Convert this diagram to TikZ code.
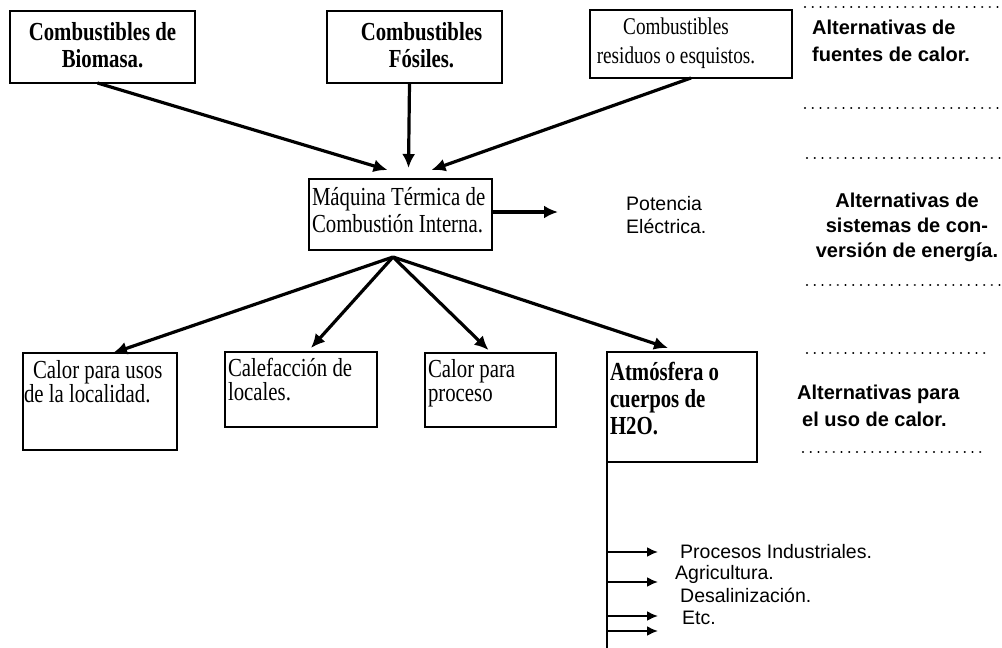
\documentclass[tikz,border=0pt]{standalone}
\usepackage{fontspec}
\usetikzlibrary{arrows.meta,calc}
\newfontfamily\serf{Liberation Serif}[FakeStretch=0.8]
\newfontfamily\sanf{Liberation Sans}
\newcommand\bt[5]{\parbox[c][#2][t]{#1}{#4\rule{0pt}{#3}#5}}
\tikzset{
  bx/.style={draw, line width=2pt, inner sep=0pt, outer sep=0pt, anchor=north west},
  arr/.style={line width=3.2pt, -{Latex[length=14pt,width=13pt]}},
  tarr/.style={line width=2pt, -{Latex[length=11pt,width=10pt]}},
  vline/.style={line width=2.2pt},
  dots/.style={line width=2.2pt, line cap=round, dash pattern=on 0.1pt off 7.6pt},
  lab/.style={inner sep=0pt, anchor=west, align=left, font=\sanf\fontsize{19.5}{23}\selectfont},
  blab/.style={inner sep=0pt, anchor=west, align=left, font=\sanf\bfseries\fontsize{20}{27}\selectfont}
}
\begin{document}
\begin{tikzpicture}[x=1pt,y=-1pt]
\useasboundingbox (0,0) rectangle (1002,648);
% top boxes
\node[bx] (bio) at (10,11) {\bt{185pt}{72pt}{29pt}{\centering}{\serf\bfseries\fontsize{26}{27}\selectfont Combustibles de\\Biomasa.}};
\node[bx] (fos) at (327,11) {\bt{175pt}{72pt}{29pt}{\centering\advance\leftskip 14pt}{\serf\bfseries\fontsize{26}{27}\selectfont Combustibles\\Fósiles.}};
\node[bx] (res) at (590,10) {\bt{202pt}{68pt}{24pt}{\centering\advance\rightskip 30pt}{\serf\fontsize{24}{29}\selectfont Combustibles\\residuos o esquistos.}};
% machine
\node[bx] (mach) at (309,179) {\bt{183pt}{71pt}{26pt}{\leftskip 3pt}{\serf\fontsize{26}{27}\selectfont Máquina Térmica de\\Combustión Interna.}};
% lower boxes
\node[bx] (cpu) at (23,353) {\bt{154pt}{97pt}{25pt}{\leftskip 1pt}{\serf\fontsize{26}{24}\selectfont\hspace*{9pt}Calor para usos\\de la localidad.}};
\node[bx] (cal) at (225,352) {\bt{152pt}{75pt}{24pt}{\leftskip 3pt}{\serf\fontsize{26}{24}\selectfont Calefacción de\\locales.}};
\node[bx] (proc) at (425,353) {\bt{131pt}{74pt}{24pt}{\leftskip 3pt}{\serf\fontsize{26}{24}\selectfont Calor para\\proceso}};
\node[bx] (atm) at (607,352) {\bt{150pt}{110pt}{28pt}{\leftskip 3pt}{\serf\bfseries\fontsize{26}{27}\selectfont Atmósfera o\\cuerpos de\\H2O.}};
% arrows into machine
\draw[arr] ($(bio.south)+(-5,0)$) -- ($(mach.north)+(-13,-9)$);
\draw[arr] ($(fos.south)+(-5,0)$) -- ($(mach.north)+(8,-11)$);
\draw[arr] (res.south) -- ($(mach.north)+(31,-9)$);
% power output
\coordinate (pe) at (558,212);
\draw[arr] (mach.east |- pe) -- (pe);
\node[lab] (pot) at (626,215) {Potencia\\Eléctrica.};
% fan out
\coordinate (fan) at (393,257);
\draw[arr] (fan) -- ($(cpu.north)+(13,0)$);
\draw[arr] (fan) -- ($(cal.north)+(10,-4)$);
\draw[arr] (fan) -- ($(proc.north)+(-2,-3)$);
\draw[arr] (fan) -- ($(atm.north)+(-14,-4)$);
% right side labels
\node[blab] (alt1) at (812,41) {Alternativas de\\fuentes de calor.};
\node[blab, anchor=center, align=center, font=\sanf\bfseries\fontsize{20}{25}\selectfont] (alt2) at (907,227) {Alternativas de\\sistemas de con-\\versión de energía.};
\node[blab] (alt3) at (797,406) {Alternativas para\\\hspace*{5pt}el uso de calor.};
\draw[dots] (805,7) -- (1000,7);
\draw[dots] (805,108) -- (1000,108);
\draw[dots] (807,158) -- (1000,158);
\draw[dots] (807,285) -- (1000,285);
\draw[dots] (807,353) -- (990,353);
\draw[dots] (803,452) -- (985,452);
% vertical distribution line
\coordinate (vb) at (607,648);
\draw[vline] (atm.south west) -- (vb);
\node[lab] (pi) at (680,552) {Procesos Industriales.};
\node[lab] (ag) at (675,574) {Agricultura.};
\node[lab] (de) at (680,595) {Desalinización.};
\node[lab] (etc) at (682,618) {Etc.};
\coordinate (b1) at (607,552); \coordinate (e1) at (658,552);
\coordinate (b2) at (607,582); \coordinate (e2) at (658,582);
\coordinate (b3) at (607,616); \coordinate (e3) at (658,616);
\coordinate (b4) at (607,631); \coordinate (e4) at (658,631);
\draw[tarr] (b1) -- (e1);
\draw[tarr] (b2) -- (e2);
\draw[tarr] (b3) -- (e3);
\draw[tarr] (b4) -- (e4);
\end{tikzpicture}
\end{document}
